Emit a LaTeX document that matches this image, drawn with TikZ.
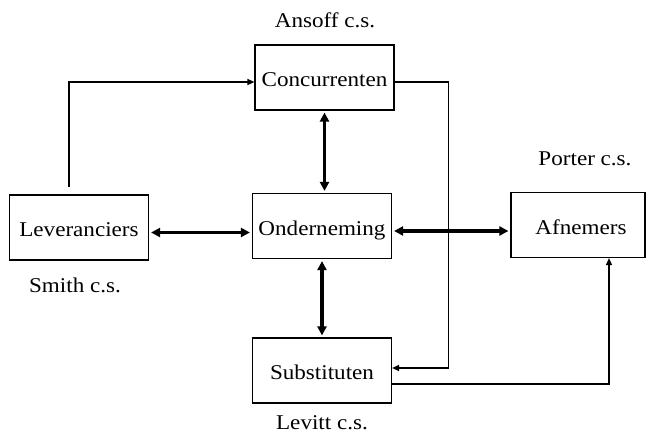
\documentclass[tikz,border=0pt]{standalone}
\usepackage{fontspec}
\setmainfont{Liberation Serif}[FakeStretch=1.1]
\usetikzlibrary{arrows.meta}
\begin{document}
\begin{tikzpicture}[x=1pt,y=-1pt,
  box/.style={draw,line width=1.2pt,minimum width=139pt,minimum height=65pt,inner sep=0pt,text height=18pt,text depth=0pt,font=\fontsize{21}{25}\selectfont},
  lbl/.style={font=\fontsize{21}{25}\selectfont,inner sep=0pt},
  thinarrow/.style={line width=1.2pt,-{Triangle[length=7pt,width=6pt]}},
  thickarrow/.style={line width=3.2pt,{Triangle[length=9pt,width=9pt]}-{Triangle[length=9pt,width=9pt]},shorten <=2pt,shorten >=2pt}]
\useasboundingbox (0,0) rectangle (646,436);
\node[box] (conc) at (324.5,77.5) {Concurrenten};
\node[box] (lev) at (79,227.5) {Leveranciers};
\node[box] (ond) at (322,226) {Onderneming};
\node[box,minimum width=134pt] (afn) at (578,225) {\hspace*{6pt}Afnemers};
\node[box] (subst) at (322,370.5) {Substituten};
\node[lbl] (ansoff) at (325,20) {Ansoff c.s.};
\node[lbl] (porter) at (585,159) {Porter c.s.};
\node[lbl] (smith) at (75,285) {Smith c.s.};
\node[lbl] (levitt) at (322,423) {Levitt c.s.};
\coordinate (levtop) at (69,187);
\draw[thinarrow] (levtop) |- ([yshift=-4.5pt]conc.west);
\draw[thinarrow] ([yshift=-4.5pt]conc.east) -- ++(54,0) |- ([yshift=2.5pt]subst.east);
\draw[thinarrow] ([yshift=-13.5pt]subst.east) -| ([xshift=31pt]afn.south);
\draw[thickarrow] ([yshift=-5pt]lev.east) -- ([yshift=-6.5pt]ond.west);
\draw[thickarrow] ([yshift=-5pt]ond.east) -- ([yshift=-6pt]afn.west);
\draw[thickarrow] (conc.south) -- (conc.south |- ond.north);
\draw[thickarrow] (ond.south) -- (ond.south |- subst.north);
\end{tikzpicture}
\end{document}
